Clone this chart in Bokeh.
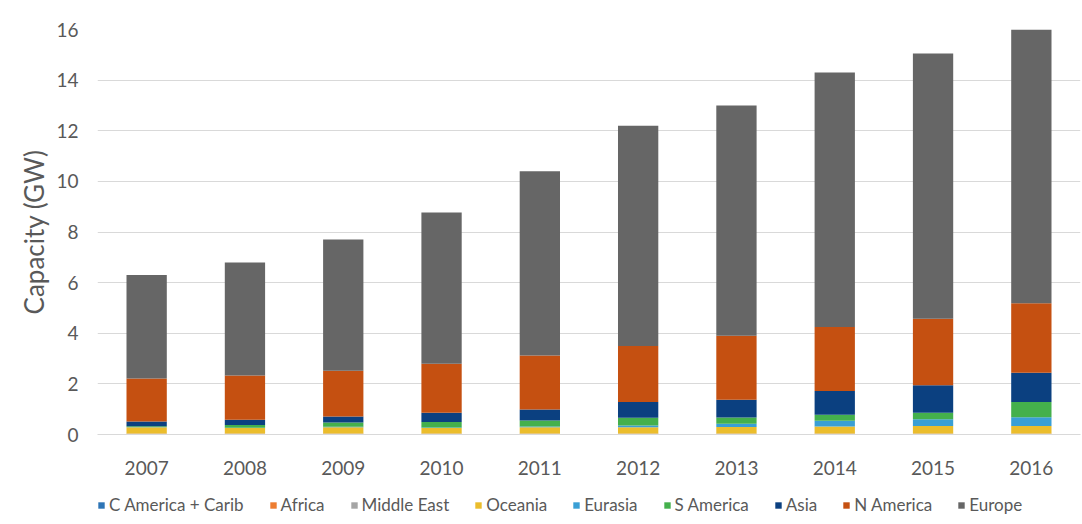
from bokeh.plotting import figure
from bokeh.layouts import column
from bokeh.models import ColumnDataSource, FactorRange, Legend, LegendItem, SingleIntervalTicker
from bokeh.embed import file_html
from bokeh.resources import INLINE

years = ["2007", "2008", "2009", "2010", "2011", "2012", "2013", "2014", "2015", "2016"]
c_america = [0.01, 0.01, 0.01, 0.01, 0.01, 0.01, 0.01, 0.01, 0.01, 0.01]
africa = [0.02, 0.02, 0.02, 0.02, 0.02, 0.02, 0.02, 0.02, 0.02, 0.02]
middle_east = [0.01, 0.01, 0.01, 0.01, 0.01, 0.01, 0.01, 0.01, 0.01, 0.01]
oceania = [0.25, 0.22, 0.25, 0.22, 0.25, 0.25, 0.26, 0.28, 0.30, 0.30]
eurasia = [0.01, 0.01, 0.02, 0.02, 0.03, 0.07, 0.12, 0.22, 0.26, 0.34]
s_america = [0.03, 0.11, 0.16, 0.21, 0.23, 0.30, 0.25, 0.24, 0.26, 0.60]
asia = [0.18, 0.20, 0.24, 0.37, 0.44, 0.62, 0.70, 0.94, 1.09, 1.16]
n_america = [1.70, 1.75, 1.81, 1.94, 2.13, 2.22, 2.53, 2.53, 2.62, 2.75]
europe = [4.09, 4.47, 5.18, 5.97, 7.28, 8.70, 9.10, 10.05, 10.48, 10.81]

series_names = ["C America + Carib", "Africa", "Middle East", "Oceania", "Eurasia",
                "S America", "Asia", "N America", "Europe"]
series_keys = ["c_america", "africa", "middle_east", "oceania", "eurasia",
               "s_america", "asia", "n_america", "europe"]
colors = ["#2e75b6", "#ed7d31", "#a5a5a5", "#ebbd2c", "#3a9fd5",
          "#44b04c", "#0b4080", "#c55011", "#666666"]

source = ColumnDataSource(data=dict(
    years=years, c_america=c_america, africa=africa, middle_east=middle_east,
    oceania=oceania, eurasia=eurasia, s_america=s_america, asia=asia,
    n_america=n_america, europe=europe))

FONT = "Lato"
TXT = "#595959"
W = 1081

p = figure(x_range=FactorRange(*years, range_padding=0), y_range=(0, 16),
           width=W, height=489, output_backend="svg", toolbar_location=None,
           min_border_left=97, min_border_right=1, min_border_top=29, min_border_bottom=55)

p.vbar_stack(series_keys, x="years", width=0.41, color=colors, source=source, line_color=None)

p.outline_line_color = None
p.xgrid.grid_line_color = None
p.ygrid.grid_line_color = "#d9d9d9"
p.ygrid.grid_line_width = 1
p.yaxis.ticker = SingleIntervalTicker(interval=2)

for ax in (p.xaxis[0], p.yaxis[0]):
    ax.major_tick_line_color = None
    ax.minor_tick_line_color = None
    ax.major_label_text_font = FONT
    ax.major_label_text_font_size = "19px"
    ax.major_label_text_color = TXT
    ax.axis_label_text_font = FONT
    ax.axis_label_text_font_style = "normal"
    ax.axis_label_text_color = TXT

p.yaxis.axis_line_color = None
p.xaxis.axis_line_color = "#d9d9d9"
p.yaxis.major_label_standoff = 13
p.xaxis.major_label_standoff = 20
p.yaxis.axis_label = "Capacity (GW)"
p.yaxis.axis_label_text_font_size = "26px"
p.yaxis.axis_label_standoff = 3

# legend strip: same series, same source, value range placed out of view
lg = figure(x_range=FactorRange(*years, range_padding=0), y_range=(100, 101), width=W, height=34,
            output_backend="svg", toolbar_location=None,
            min_border_left=0, min_border_right=0, min_border_top=0, min_border_bottom=0)
lg.axis.visible = False
lg.grid.visible = False
lg.outline_line_color = None
lrs = lg.vbar_stack(series_keys, x="years", width=0.41, color=colors, source=source, line_color=None)
items = [LegendItem(label=n, renderers=[r]) for n, r in zip(series_names, lrs)]
legend = Legend(items=items, orientation="horizontal", location=(0, 8),
                glyph_width=8, glyph_height=8, label_standoff=4, spacing=25,
                padding=0, margin=0, border_line_color=None, background_fill_alpha=0,
                label_text_font=FONT, label_text_font_size="17px", label_text_color=TXT)
lg.add_layout(legend, "center")

open("out.html", "w").write(file_html(column(p, lg, spacing=0), INLINE))
